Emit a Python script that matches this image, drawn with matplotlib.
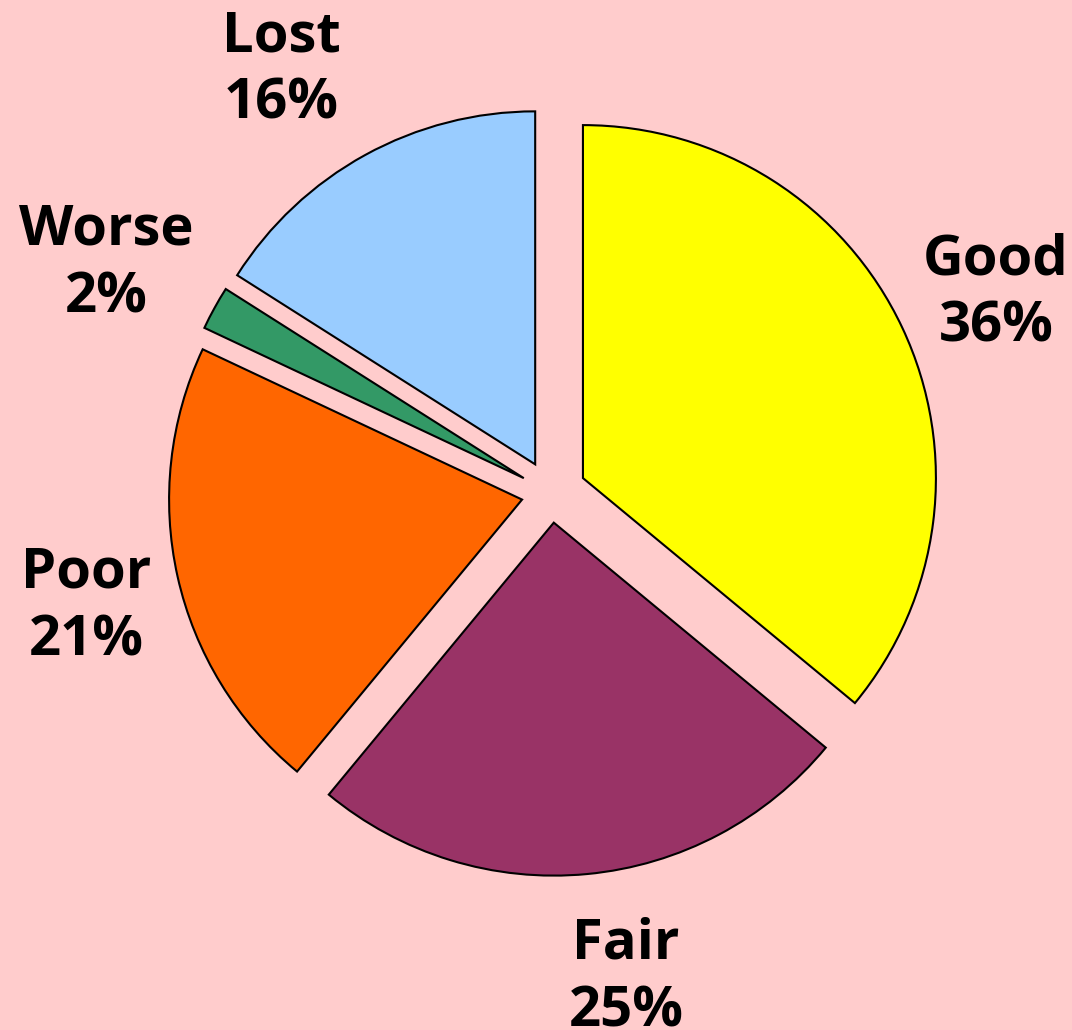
import numpy as np
import matplotlib
matplotlib.use('Agg')
import matplotlib.pyplot as plt

# data
categories = ['Good', 'Fair', 'Poor', 'Worse', 'Lost']
percents = [36, 25, 21, 2, 16]
colors = ['#FFFF00', '#993366', '#FF6600', '#339966', '#99CCFF']
explode = [0.10, 0.084, 0.084, 0.088, 0.093]
# label placement: distance (radii) and angle shift (deg) from wedge middle
label_dist = [1.282, 1.306, 1.272, 1.330, 1.328]
label_shift = [-1.1, 3.6, 1.25, 1.7, 4.0]

bg = '#FFCCCC'

fig = plt.figure(figsize=(10.72, 10.30), dpi=100, facecolor=bg)
ax = fig.add_axes([0, 0, 1, 1])
ax.set_facecolor(bg)

wedges, _ = ax.pie(percents, colors=colors, explode=explode, startangle=90,
                   counterclock=False, radius=1.0,
                   wedgeprops={'edgecolor': 'black', 'linewidth': 1.5})

# labels outside each wedge, two lines, centred
for w, cat, p, d, s in zip(wedges, categories, percents, label_dist, label_shift):
    mid = np.deg2rad((w.theta1 + w.theta2) / 2 + s)
    cx, cy = w.center
    ax.text(cx + d * np.cos(mid), cy + d * np.sin(mid), '%s\n%d%%' % (cat, p),
            ha='center', va='center', multialignment='center',
            fontsize=40.5, fontweight='bold', family='Open Sans', linespacing=1.3)

ax.set_xlim(-1.561, 1.476)
ax.set_ylim(-1.521, 1.397)
ax.set_aspect('auto')
ax.axis('off')

fig.savefig('out.png', dpi=100, facecolor=bg)
